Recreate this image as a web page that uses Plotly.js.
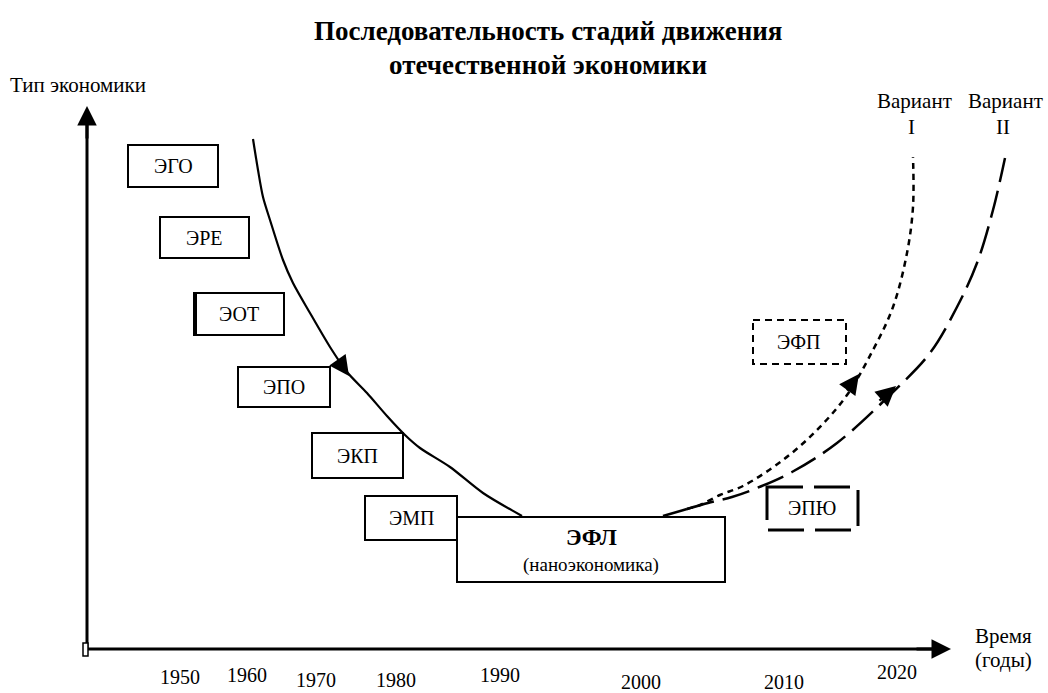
<!DOCTYPE html>
<html>
<head>
<meta charset="utf-8">
<script src="https://cdn.plot.ly/plotly-3.0.1.min.js"></script>
<style>html,body{margin:0;padding:0;background:#fff;}#chart{width:1048px;height:693px;}</style>
</head>
<body>
<div id="chart"></div>
<script>
// ---- data (schematic coordinates on the diagram plane) ----
const titleLines = ["Последовательность стадий движения", "отечественной экономики"];
const yAxisLabel = "Тип экономики";
const xAxisLabel = ["Время", "(годы)"];

// main descending curve
const mainX = [253, 258, 263, 270, 283, 293, 310, 330, 347, 367, 387, 405, 420, 450, 483, 522];
const mainY = [139, 170, 197, 220, 260, 283, 313, 347, 372, 393, 416, 435, 448, 467, 493, 516];
// common rising start after ЭФЛ
const baseX = [663, 687];
const baseY = [516, 509];
// Variant I (short dashes)
const var1X = [687, 700, 720, 743, 783, 817, 847, 873, 893, 907, 913, 913];
const var1Y = [509, 505, 495, 486, 460, 430, 395, 350, 307, 253, 207, 157];
// Variant II (long dashes)
const var2X = [687, 708, 732, 757, 792, 837, 893, 930, 957, 977, 993, 1005];
const var2Y = [509, 503, 497, 488, 472, 443, 392, 353, 307, 263, 210, 158];

// stage boxes
const stageLabels = ["ЭГО", "ЭРЕ", "ЭОТ", "ЭПО", "ЭКП", "ЭМП"];
const stageX0 = [128, 160, 194, 238, 312, 365];
const stageX1 = [218, 249, 284, 330, 403, 457];
const stageY0 = [145, 217, 293, 367, 433, 496];
const stageY1 = [187, 258, 335, 407, 478, 540];

const centerLabel = "ЭФЛ";
const centerSub = "(наноэкономика)";
const futureLabels = ["ЭФП", "ЭПЮ"];
const variantLabels = [["Вариант", "I"], ["Вариант", "II"]];

// time tick labels
const yearLabels = ["1950", "1960", "1970", "1980", "1990", "2000", "2010", "2020"];
const yearX = [180, 247, 316, 396, 500, 641, 784, 897];
const yearY = [677, 675, 680, 680, 675, 682, 682, 672];

// ---- drawing ----
const FONT = "Liberation Serif, Times New Roman, serif";
const traces = [
  {x: mainX, y: mainY, mode: "lines", line: {color: "#000", width: 2.2, shape: "spline", smoothing: 0.8}, hoverinfo: "skip"},
  {x: baseX, y: baseY, mode: "lines", line: {color: "#000", width: 2.5}, hoverinfo: "skip"},
  {x: var1X, y: var1Y, mode: "lines", line: {color: "#000", width: 2.5, shape: "spline", dash: "6px,5px"}, hoverinfo: "skip"},
  {x: var2X, y: var2Y, mode: "lines", line: {color: "#000", width: 2.5, shape: "spline", dash: "28px,9px"}, hoverinfo: "skip"}
];

const shapes = [];
const annotations = [];
function txt(x, y, text, size, opts) {
  annotations.push(Object.assign({x: x, y: y, xref: "x", yref: "y", text: text, showarrow: false,
    font: {family: FONT, size: size, color: "#000"}}, opts || {}));
}
function arrow(x, y, ax, ay, w, s) {
  annotations.push({x: x, y: y, ax: ax, ay: ay, xref: "x", yref: "y", axref: "x", ayref: "y",
    text: "", showarrow: true, arrowhead: 2, arrowwidth: w, arrowsize: s, arrowcolor: "#000"});
}

// axes
shapes.push({type: "line", x0: 87, y0: 649, x1: 87, y1: 120, line: {color: "#000", width: 3}});
shapes.push({type: "line", x0: 87, y0: 649, x1: 935, y1: 649, line: {color: "#000", width: 3}});
arrow(87, 106, 87, 140, 3, 1.3);
arrow(951, 649, 915, 649, 3, 1.3);
shapes.push({type: "rect", x0: 83, y0: 643, x1: 88, y1: 656, line: {color: "#000", width: 1.5}, fillcolor: "#fff"});

// stage boxes
for (let i = 0; i < stageLabels.length; i++) {
  shapes.push({type: "rect", x0: stageX0[i], x1: stageX1[i], y0: stageY0[i], y1: stageY1[i],
    line: {color: "#000", width: 2}, fillcolor: "#fff"});
  txt((stageX0[i] + stageX1[i]) / 2, (stageY0[i] + stageY1[i]) / 2, stageLabels[i], 20);
}
shapes.push({type: "line", x0: 195, x1: 195, y0: 293, y1: 335, line: {color: "#000", width: 4}});
// central box
shapes.push({type: "rect", x0: 457, x1: 725, y0: 517, y1: 582, line: {color: "#000", width: 2}, fillcolor: "#fff"});
txt(591, 537, "<b>" + centerLabel + "</b>", 23);
txt(591, 565, centerSub, 19);
// future boxes
shapes.push({type: "rect", x0: 753, x1: 846, y0: 320, y1: 364, line: {color: "#000", width: 2, dash: "7px,5px"}});
txt(799, 342, futureLabels[0], 20);
shapes.push({type: "rect", x0: 767, x1: 858, y0: 487, y1: 530, line: {color: "#000", width: 3, dash: "36px,11px"}});
txt(812, 508, futureLabels[1], 20);

// arrows on curves
arrow(349, 376, 337, 359, 2.5, 1.6);
arrow(859, 374, 846, 392, 2.5, 1.6);
arrow(896, 386, 878, 402, 2.5, 1.6);

// titles / labels
txt(548, 31, "<b>" + titleLines[0] + "</b>", 27);
txt(548, 65, "<b>" + titleLines[1] + "</b>", 27);
txt(8, 85, yAxisLabel, 21, {xanchor: "left"});
txt(973, 636, xAxisLabel[0], 21, {xanchor: "left"});
txt(973, 660, xAxisLabel[1], 21, {xanchor: "left"});
txt(914, 101, variantLabels[0][0], 21);
txt(911, 127, variantLabels[0][1], 21);
txt(1005, 101, variantLabels[1][0], 21);
txt(1003, 127, variantLabels[1][1], 21);
for (let i = 0; i < yearLabels.length; i++) txt(yearX[i], yearY[i], yearLabels[i], 20);

const layout = {
  width: 1048, height: 693,
  margin: {l: 0, r: 0, t: 0, b: 0},
  paper_bgcolor: "#fff", plot_bgcolor: "#fff",
  showlegend: false,
  xaxis: {range: [0, 1048], visible: false, fixedrange: true},
  yaxis: {range: [693, 0], visible: false, fixedrange: true},
  shapes: shapes,
  annotations: annotations
};
Plotly.newPlot("chart", traces, layout, {staticPlot: true, displayModeBar: false});
</script>
</body>
</html>
